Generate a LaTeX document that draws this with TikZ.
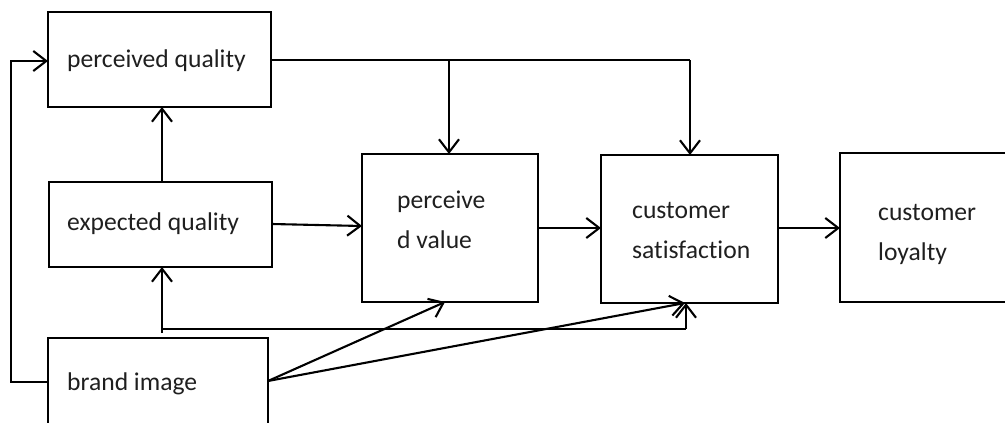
\documentclass[tikz,border=0pt]{standalone}
\usepackage{fontspec}
\setmainfont{Carlito}[Ligatures={NoCommon}]
\usetikzlibrary{arrows.meta}
\begin{document}
\begin{tikzpicture}[x=1pt,y=-1pt,
  box/.style={draw=black,line width=2.4pt,rectangle,inner sep=0pt,outer sep=0pt},
  conn/.style={draw=black,line width=2.1pt},
  arr/.style={conn,-{Straight Barb[length=13pt,width=20pt,line width=2.1pt]}},
  lbl/.style={inner sep=0pt,anchor=base west,text=black!88,font=\fontsize{25.6}{40}\selectfont}]
\useasboundingbox (0,0) rectangle (1005,423);
\clip (0,0) rectangle (1005,423);
% boxes
\node[box,minimum width=223pt,minimum height=95pt] (pq) at (159.5,59.5) {};
\node[box,minimum width=223pt,minimum height=85pt] (eq) at (160.5,224.5) {};
\node[box,minimum width=220pt,minimum height=102pt] (bi) at (158,389) {};
\node[box,minimum width=176pt,minimum height=148pt] (pv) at (450,228) {};
\node[box,minimum width=177pt,minimum height=148pt] (cs) at (689.5,229) {};
\node[box,minimum width=177pt,minimum height=149pt] (cl) at (928.5,227.5) {};
% labels
\node[lbl] (tpq) at (67,67) {perceived quality};
\node[lbl] (teq) at (67,230) {expected quality};
\node[lbl] (tbi) at (67,390) {brand image};
\node[lbl] (tpv1) at (397,208) {perceive};
\node[lbl] (tpv2) at (397,248) {d value};
\node[lbl] (tcs1) at (632,218) {customer};
\node[lbl] (tcs2) at (632,258) {satisfaction};
\node[lbl] (tcl1) at (878,220) {customer};
\node[lbl] (tcl2) at (878,260) {loyalty};
% coordinates
\coordinate (lb) at (11,382);
\coordinate (lt) at (11,61);
\coordinate (tr) at (690,60);
\coordinate (tm) at (449,60);
\coordinate (j1) at (162,329);
\coordinate (j0) at (162,333);
\coordinate (j2) at (686,329);
\coordinate (bo) at (268,381);
% connectors
\draw[arr] (bi.west |- lb) -- (lb) -- (lt) -- (pq.west |- lt);
\draw[arr] (eq.north -| j1) -- (pq.south -| j1);
\draw[conn] (pq.east |- tr) -- (tr);
\draw[arr] (tr) -- (cs.north -| tr);
\draw[arr] (tm) -- (pv.north -| tm);
\draw[arr] (eq.east |- 0,224) -- (pv.west |- 0,226);
\draw[arr] (pv.east |- 0,228) -- (cs.west |- 0,228);
\draw[arr] (cs.east |- 0,228) -- (cl.west |- 0,228);
\draw[arr] (j0) -- (eq.south -| j0);
\draw[conn] (j1) -- (j2);
\draw[arr] (j2) -- (cs.south -| j2);
\draw[arr] (bo) -- (pv.south -| 445,0);
\draw[arr] (bo) -- (cs.south -| 685,0);
\end{tikzpicture}
\end{document}
